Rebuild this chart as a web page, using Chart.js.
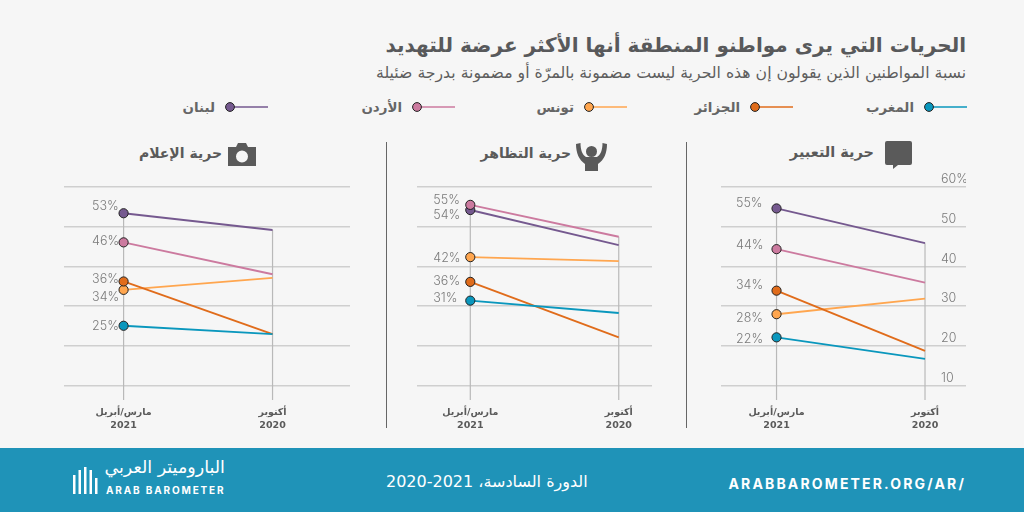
<!DOCTYPE html>
<html lang="ar">
<head>
<meta charset="utf-8">
<title>الحريات</title>
<script src="https://cdn.jsdelivr.net/npm/chart.js@4"></script>
<style>
    html, body { margin: 0; padding: 0; }
    body { width: 1024px; height: 512px; background: #f6f6f6; position: relative; overflow: hidden; font-family: "DejaVu Sans", sans-serif; color: #58595b; }
    .abs { position: absolute; white-space: nowrap; }
    canvas { position: absolute; }
    #title { right: 58px; top: 33px; font-size: 20px; font-weight: bold; direction: rtl; }
    #subtitle { right: 58px; top: 63px; font-size: 15.7px; direction: rtl; color: #5e5e5e; }
    .legend-item { position: absolute; top: 98px; height: 18px; display: flex; align-items: center; font-size: 13.4px; font-weight: bold; color: #666; }
    .legend-item svg { margin-left: 9px; }
    .divider { position: absolute; top: 142px; width: 1px; height: 286px; background: #666; }
    .panel-title { top: 145px; font-size: 14px; font-weight: bold; direction: rtl; color: #5a5a5a; }
    #footer { position: absolute; left: 0; top: 448px; width: 1024px; height: 64px; background: #1f93b8; color: #fff; }
</style>
</head>
<body>
<div id="title" class="abs">الحريات التي يرى مواطنو المنطقة أنها الأكثر عرضة للتهديد</div>
<div id="subtitle" class="abs">نسبة المواطنين الذين يقولون إن هذه الحرية ليست مضمونة بالمرّة أو مضمونة بدرجة ضئيلة</div>
<div id="legend"></div>

<div class="divider" style="left:386px"></div>
<div class="divider" style="left:686px"></div>

<div class="abs panel-title" style="right:150px;font-size:14.5px;top:144px">حرية التعبير</div>
<svg class="abs" style="left:885px;top:141px" width="28" height="28" viewBox="0 0 28 28"><path fill="#5a5a5a" d="M2 0h23a2 2 0 0 1 2 2v20a2 2 0 0 1-2 2H13l-5 4v-4H2a2 2 0 0 1-2-2V2a2 2 0 0 1 2-2z"/></svg>

<div class="abs panel-title" style="right:453px">حرية التظاهر</div>
<svg class="abs" style="left:576px;top:143px" width="31" height="28" viewBox="0 0 31 28"><g fill="#5a5a5a"><circle cx="15.5" cy="8.500" r="5.500"/><path d="M9 28V18h13v10z"/><path d="M0 1l4.500-1c0 7 2 12 5.500 14h11c3.500-2 5.500-7 5.500-14l4.500 1c0 9-3 16-9 20H9C3 17 0 10 0 1z"/></g></svg>

<div class="abs panel-title" style="right:802px">حرية الإعلام</div>
<svg class="abs" style="left:228px;top:143px" width="28" height="23" viewBox="0 0 28 23"><path fill="#5a5a5a" fill-rule="evenodd" d="M0 4h8l2-4h8l2 4h8v19H0zM14 7.500a6 6 0 1 0 0 12 6 6 0 0 0 0-12z"/></svg>

<div id="footer">
    <svg class="abs" style="left:73px;top:19px" width="26" height="27" viewBox="0 0 26 27"><g fill="#fff"><rect x="0" y="8" width="2.500" height="19"/><rect x="5.500" y="3" width="2.500" height="24"/><rect x="11" y="0" width="2.500" height="27"/><rect x="16.500" y="3" width="2.500" height="24"/><rect x="22" y="11" width="2.500" height="16"/></g></svg>
    <div class="abs" style="right:799px;top:9px;font-size:17.5px;direction:rtl">الباروميتر العربي</div>
    <div class="abs" style="left:106px;top:36px;font:700 10px Inter;letter-spacing:1.85px">ARAB BAROMETER</div>
    <div class="abs" style="left:386px;top:24px;font-size:16px;direction:rtl">الدورة السادسة، <bdi dir="ltr">2020-2021</bdi></div>
    <div class="abs" style="right:58px;top:27px;font:700 14px Inter;letter-spacing:2.15px">ARABBAROMETER.ORG/AR/</div>
</div>

<canvas id="chartExpression" style="left:721px;top:165px"></canvas>
<canvas id="chartProtest" style="left:417px;top:165px"></canvas>
<canvas id="chartMedia" style="left:64px;top:165px"></canvas>

<script>
// series order: first one is drawn on top
const seriesNames = ["المغرب", "الجزائر", "تونس", "الأردن", "لبنان"];
const seriesColors = ["#0a97bd", "#e06c1b", "#ffa64f", "#cc7a9f", "#75598f"];
const xLabels = [["مارس/أبريل", "2021"], ["أكتوبر", "2020"]];
const yTicks = [10, 20, 30, 40, 50, 60];
const yTickLabels = ["10", "20", "30", "40", "50", "60%"];

const expressionValues = [[22.2, 16.8], [33.9, 18.8], [28.0, 31.9], [44.3, 35.9], [54.5, 45.8]];
const protestValues = [[31.4, 28.3], [36.1, 22.2], [42.3, 41.3], [55.4, 47.4], [54.1, 45.3]];
const mediaValues = [[25.1, 23.0], [36.2, 23.0], [34.1, 37.1], [46.0, 38.0], [53.3, 49.1]];

Chart.defaults.font.family = '"DejaVu Sans", sans-serif';
Chart.defaults.animation = false;

// legend on top of the panels
const legendRight = [57, 231, 397, 569, 756];
const legendBox = document.getElementById("legend");
seriesNames.forEach((name, i) => {
    const item = document.createElement("div");
    item.className = "legend-item";
    item.style.right = legendRight[i] + "px";
    item.innerHTML = `<span>${name}</span><svg width="44" height="12" viewBox="0 0 44 12"><line x1="8" y1="6" x2="44" y2="6" stroke="${seriesColors[i]}" stroke-width="1.500"/><circle cx="6" cy="6" r="4.400" fill="${seriesColors[i]}" stroke="#222" stroke-width="1"/></svg>`;
    legendBox.appendChild(item);
});

// vertical lines from the highest point down past the axis
const dropLines = {
    id: "dropLines",
    beforeDatasetsDraw(chart) {
        const { x, y } = chart.scales;
        const ctx = chart.ctx;
        ctx.save();
        ctx.strokeStyle = "#b9b9b9";
        ctx.lineWidth = 1.2;
        [0, 1].forEach((i) => {
            const top = Math.max(...chart.data.datasets.map((d) => d.data[i].y));
            ctx.beginPath();
            ctx.moveTo(x.getPixelForValue(i), y.getPixelForValue(top));
            ctx.lineTo(x.getPixelForValue(i), y.bottom);
            ctx.stroke();
        });
        ctx.restore();
    },
};

// percentage next to each first point, and the axis numbers floating over the grid lines
const valueLabels = {
    id: "valueLabels",
    afterDatasetsDraw(chart, args, opts) {
        const { x, y } = chart.scales;
        const ctx = chart.ctx;
        ctx.save();
        ctx.font = "300 12.5px Inter";
        ctx.fillStyle = "#7a7a7a";
        ctx.textAlign = "left";
        ctx.textBaseline = "middle";
        ctx.direction = "ltr";
        chart.data.datasets.forEach((d, i) => {
            const v = d.data[0].y;
            ctx.fillText(Math.round(v) + "%", x.getPixelForValue(0) + opts.dx, y.getPixelForValue(v) + opts.nudge[i] + 1);
        });
        if (opts.showTicks) {
            yTicks.forEach((v, i) => {
                ctx.fillText(yTickLabels[i], x.left + 220, y.getPixelForValue(v) - 7.5);
            });
        }
        ctx.restore();
    },
};

function makeChart(id, values, xMin, xMax, width, labelDx, nudge, showTicks) {
    const canvas = document.getElementById(id);
    canvas.style.width = width + "px";
    canvas.style.height = "270px";
    canvas.width = width;
    canvas.height = 270;
    return new Chart(canvas, {
        type: "line",
        plugins: [dropLines, valueLabels],
        data: {
            datasets: values.map((row, i) => ({
                label: seriesNames[i],
                data: row.map((v, j) => ({ x: j, y: v })),
                borderColor: seriesColors[i],
                backgroundColor: seriesColors[i],
                borderWidth: 1.9,
                pointRadius: [4.6, 0],
                pointBorderColor: "#222",
                pointBorderWidth: 1,
                tension: 0,
            })),
        },
        options: {
            responsive: false,
            layout: { autoPadding: false, padding: { top: 21.5, left: 0, right: 0, bottom: 0 } },
            plugins: {
                legend: { display: false },
                tooltip: { enabled: false },
                valueLabels: { dx: labelDx, nudge: nudge, showTicks: showTicks },
            },
            scales: {
                x: {
                    type: "linear",
                    min: xMin,
                    max: xMax,
                    afterBuildTicks: (s) => { s.ticks = [{ value: 0 }, { value: 1 }]; },
                    afterFit: (s) => { s.height = 35; },
                    grid: { display: false },
                    border: { display: false },
                    ticks: {
                        autoSkip: false,
                        maxRotation: 0,
                        padding: -2,
                        color: "#5a5a5a",
                        font: { size: 9.5, weight: "bold", lineHeight: 1.35 },
                        callback: (v) => xLabels[v],
                    },
                },
                y: {
                    min: 6.5,
                    max: 60,
                    afterBuildTicks: (s) => { s.ticks = yTicks.map((v) => ({ value: v })); },
                    afterFit: (s) => { s.width = 0; },
                    grid: { color: "#cfcfcf", lineWidth: 1.5, drawTicks: false },
                    border: { display: false },
                    ticks: { display: false },
                },
            },
        },
    });
}

makeChart("chartExpression", expressionValues, -0.374, 1.276, 245, -40.5, [0.5, -6, 3, -5, -6], true);
makeChart("chartProtest", protestValues, -0.359, 1.224, 235, -37, [-3.5, -1.500, 0, -6, 4], false);
makeChart("chartMedia", mediaValues, -0.4, 1.52, 286, -31.5, [-0.5, -3, 6, -2, -8], false);
</script>
</body>
</html>
